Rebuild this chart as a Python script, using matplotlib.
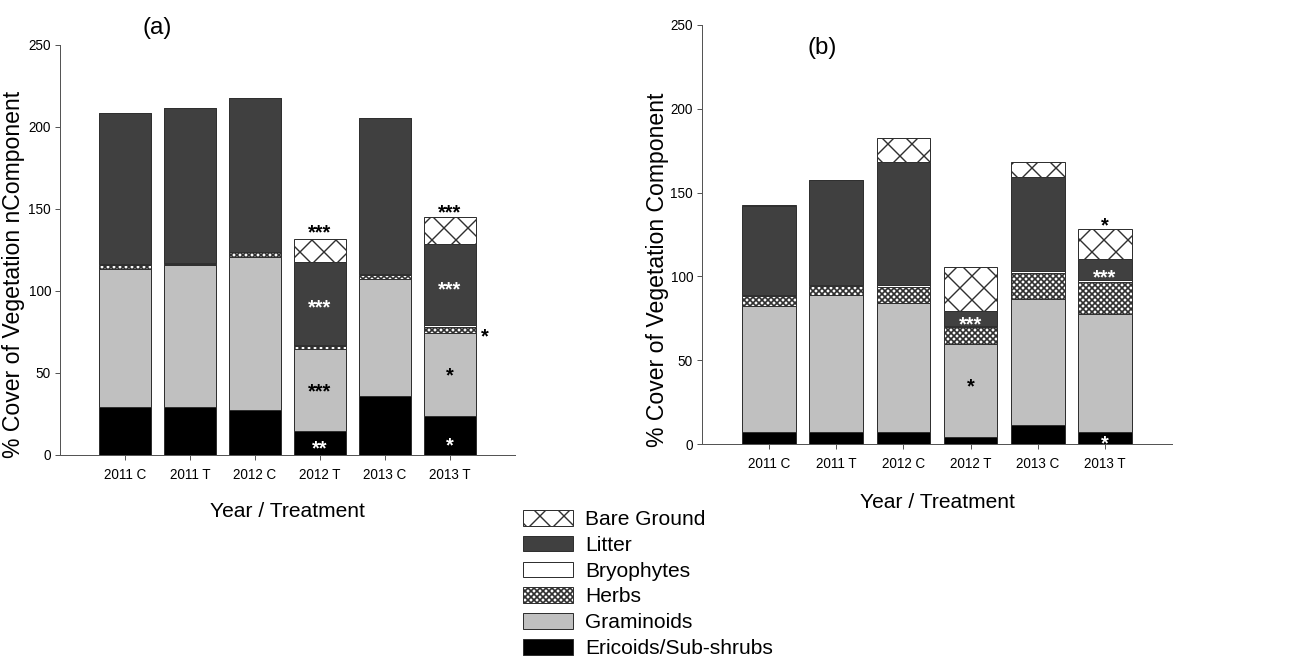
import matplotlib
matplotlib.use('Agg')
import matplotlib.pyplot as plt
from matplotlib.patches import Patch

# 72 dpi so that points == pixels
plt.rcParams['font.family'] = ['Liberation Sans', 'DejaVu Sans']

treatments = ['2011 C', '2011 T', '2012 C', '2012 T', '2013 C', '2013 T']

# (a) cover per component, bottom to top
ericoids_a = [29.1, 29.0, 27.4, 14.8, 36.0, 24.0]
graminoids_a = [84.5, 86.9, 93.5, 49.8, 71.1, 50.6]
herbs_a = [2.3, 0.6, 2.7, 2.1, 2.7, 3.7]
bryophytes_a = [0.3, 0.3, 0.3, 0.5, 0.3, 1.0]
litter_a = [92.5, 94.6, 93.6, 50.3, 95.6, 49.2]
bare_a = [0.0, 0.0, 0.0, 14.4, 0.0, 16.6]

# (b)
ericoids_b = [7.0, 7.0, 7.0, 4.4, 11.1, 7.0]
graminoids_b = [75.5, 81.7, 77.3, 55.1, 75.4, 70.4]
herbs_b = [6.0, 5.6, 9.2, 10.1, 15.5, 19.5]
bryophytes_b = [0.3, 0.8, 1.2, 1.0, 1.4, 1.0]
litter_b = [53.2, 62.2, 73.4, 8.6, 55.9, 12.3]
bare_b = [0.6, 0.5, 14.7, 26.2, 9.0, 17.9]

# significance marks: (x position, y, text, colour)
sig_a = [(4, 139.0, '***', 'black'), (4, 93.5, '***', 'white'),
         (4, 42.3, '***', 'black'), (4, 7.5, '**', 'white'),
         (6, 151.4, '***', 'black'), (6, 104.3, '***', 'white'),
         (6.54, 75.8, '*', 'black'), (6, 51.8, '*', 'black'),
         (6, 9.1, '*', 'white')]
sig_b = [(4, 74.4, '***', 'white'), (4, 37.6, '*', 'black'),
         (6, 133.6, '*', 'black'), (6, 102.8, '***', 'white'),
         (6, 3.4, '*', 'white')]

# name, facecolor, hatch, hatch line width  (stack order)
styles = [('Ericoids/Sub-shrubs', 'black', None, 1.0),
          ('Graminoids', '#c0c0c0', None, 1.0),
          ('Herbs', 'white', 'xxxx', 1.7),
          ('Bryophytes', 'white', None, 1.0),
          ('Litter', '#404040', None, 1.0),
          ('Bare Ground', 'white', 'x', 1.4)]
edge = '#303030'
axcol = '#555555'

fig = plt.figure(figsize=(1301 / 72, 662 / 72), dpi=72)
ax_a = fig.add_axes([60 / 1301, 1 - 455 / 662, 455 / 1301, 410 / 662])
ax_b = fig.add_axes([702 / 1301, 1 - 444 / 662, 470 / 1301, 419 / 662])

x = list(range(1, 7))


def hatch_patch(p, lw):
    if hasattr(p, 'set_hatch_linewidth'):
        p.set_hatch_linewidth(lw)


def draw(ax, layers, marks, ylabel):
    bottom = [0.0] * 6
    for (name, fc, hatch, hlw), vals in zip(styles, layers):
        plt.rcParams['hatch.linewidth'] = hlw
        bars = ax.bar(x, vals, 0.8, bottom=bottom, color=fc, edgecolor=edge,
                      linewidth=1, hatch=hatch)
        for b in bars:
            hatch_patch(b, hlw)
        bottom = [b + v for b, v in zip(bottom, vals)]
    for xp, yp, txt, c in marks:
        ax.annotate(txt, (xp, yp), xytext=(0, -11.5), textcoords='offset points',
                    ha='center', va='baseline', color=c, fontsize=20,
                    fontweight='bold')
    ax.set_xlim(0, 7)
    ax.set_ylim(0, 250)
    ax.set_xticks(x, treatments)
    ax.set_yticks(range(0, 251, 50))
    for s in ['top', 'right']:
        ax.spines[s].set_visible(False)
    for s in ['left', 'bottom']:
        ax.spines[s].set_color(axcol)
        ax.spines[s].set_linewidth(1)
    ax.tick_params(direction='out', length=5, width=1, color=axcol, labelsize=13.5)
    ax.tick_params(axis='x', pad=8)
    ax.tick_params(axis='y', pad=4)
    ax.set_ylabel(ylabel, fontsize=23)
    ax.set_xlabel('Year / Treatment', fontsize=21)


draw(ax_a, [ericoids_a, graminoids_a, herbs_a, bryophytes_a, litter_a, bare_a],
     sig_a, '% Cover of Vegetation nComponent')
draw(ax_b, [ericoids_b, graminoids_b, herbs_b, bryophytes_b, litter_b, bare_b],
     sig_b, '% Cover of Vegetation Component')

ax_a.yaxis.set_label_coords(-0.076, 0.44)
ax_a.xaxis.set_label_coords(0.5, -0.114)
ax_b.yaxis.set_label_coords(-0.07, 0.415)
ax_b.xaxis.set_label_coords(0.5, -0.117)

fig.text(157 / 1301, 1 - 28 / 662, '(a)', fontsize=24, ha='center', va='center')
fig.text(822 / 1301, 1 - 48 / 662, '(b)', fontsize=24, ha='center', va='center')

handles = []
for n, fc, h, hlw in styles[::-1]:
    plt.rcParams['hatch.linewidth'] = hlw
    p = Patch(facecolor=fc, edgecolor=edge, hatch=h, label=n)
    hatch_patch(p, hlw)
    handles.append(p)
leg = fig.legend(handles=handles, loc='upper left',
                 bbox_to_anchor=(523 / 1301, 1 - 510 / 662),
                 frameon=False, fontsize=21, handlelength=2.38, handleheight=0.76,
                 handletextpad=0.57, labelspacing=0.32, borderaxespad=0, borderpad=0)
for p, (n, fc, h, hlw) in zip(leg.get_patches(), styles[::-1]):
    hatch_patch(p, hlw)

fig.savefig('out.png', dpi=72, facecolor='white')
